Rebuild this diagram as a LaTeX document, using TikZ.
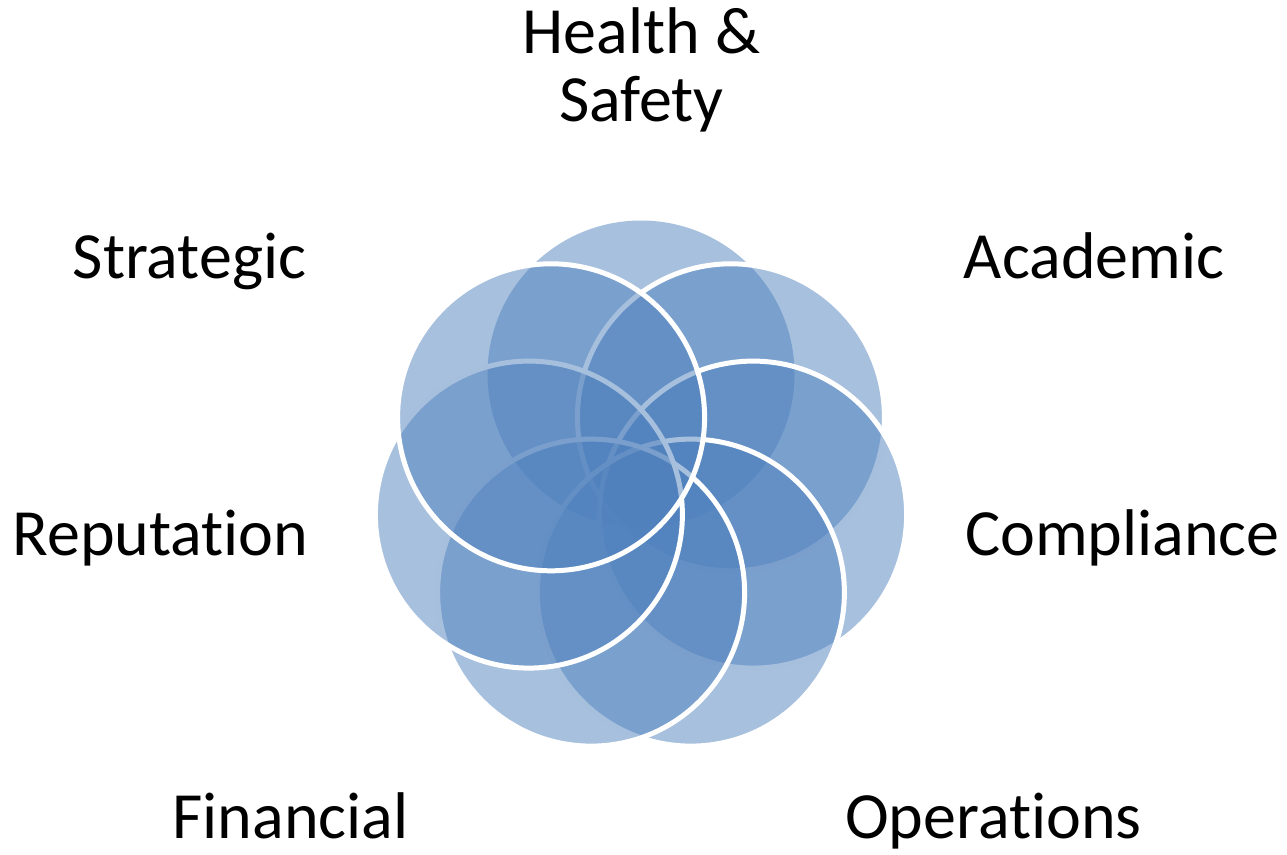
\documentclass[tikz,border=0pt]{standalone}
\usepackage{fontspec}
\setmainfont{Carlito}[Ligatures=NoCommon]
\usetikzlibrary{calc}
\definecolor{petalblue}{HTML}{4F81BD}
\begin{document}
\begin{tikzpicture}[x=1pt,y=-1pt,
  petal/.style={circle, inner sep=0pt, outer sep=0pt, minimum size=307pt,
    fill=petalblue, fill opacity=0.5, draw=white, draw opacity=1, line width=5pt},
  lbl/.style={font=\fontsize{66}{68}\selectfont, anchor=base, inner sep=0pt,
    text=black, align=center}]
\useasboundingbox (0,0) rectangle (1287,854);
\coordinate (ctr) at (641,489);
% top circle (no visible outline)
\node[petal, draw=none] (hs) at ($(ctr)+(0,-115)$) {};
\foreach \k/\n in {1/ac,2/co,3/op,4/fi,5/re,6/st}{
  \pgfmathsetmacro{\ang}{\k*360/7}
  \node[petal] (\n) at ($(ctr)+({115*sin(\ang)},{-115*cos(\ang)})$) {};
}
\node[lbl] (ths) at (641.5,121) {Health \&\\Safety};
\node[lbl] (tac) at (1094,278) {Academic};
\node[lbl] (tco) at (1122.5,555) {Compliance};
\node[lbl] (top) at (993.5,838) {Operations};
\node[lbl] (tfi) at (290.5,838) {Financial};
\node[lbl] (tre) at (160.5,555) {Reputation};
\node[lbl] (tst) at (189.5,278) {Strategic};
\end{tikzpicture}
\end{document}
